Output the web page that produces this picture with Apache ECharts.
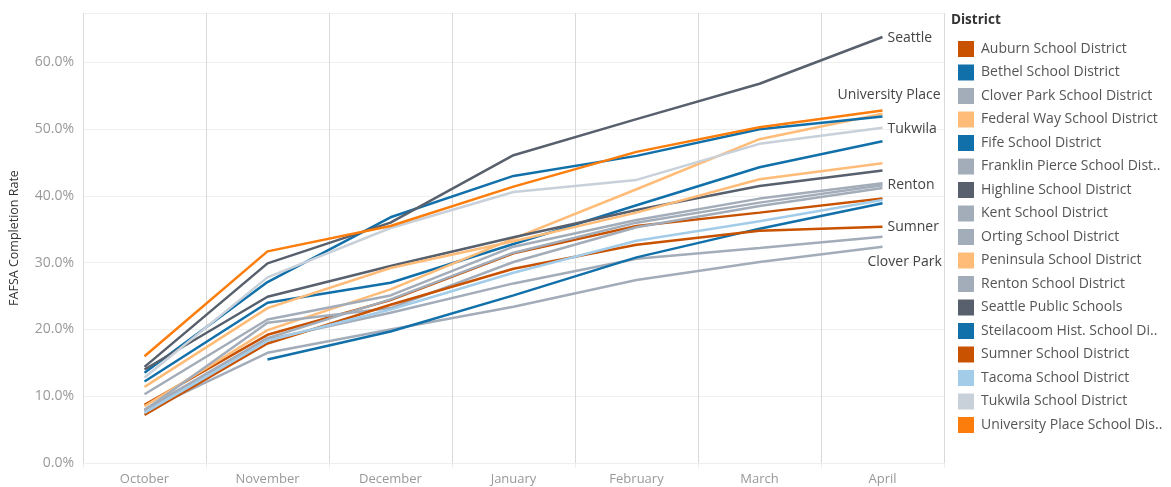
<!DOCTYPE html>
<html>
<head>
<meta charset="utf-8">
<script src="https://cdn.jsdelivr.net/npm/echarts@6/dist/echarts.min.js"></script>
<style>
  html, body { margin: 0; padding: 0; background: #fff; }
  #chart { width: 1171px; height: 487px; }
</style>
</head>
<body>
<div id="chart"></div>
<script>
// months on the x axis
const months = ['October', 'November', 'December', 'January', 'February', 'March', 'April']

// completion rate (%) per district
const auburn = [8.7, 19.2, 24.4, 31.4, 35.5, 37.5, 39.6]
const bethel = [12.2, 24.0, 27.0, 32.8, 38.6, 44.3, 48.2]
const cloverPark = [7.7, 16.5, 20.0, 23.4, 27.4, 30.1, 32.4]
const federalWay = [8.5, 19.9, 26.0, 33.6, 41.0, 48.5, 52.3]
const fife = [13.5, 27.1, 36.8, 43.0, 46.0, 50.0, 51.9]
const franklinPierce = [7.9, 18.5, 22.5, 26.9, 30.6, 32.2, 33.9]
const highline = [14.0, 24.9, 29.5, 33.8, 37.9, 41.5, 43.8]
const kent = [10.3, 21.5, 25.1, 32.4, 36.4, 39.6, 41.9]
const orting = [7.9, 21.0, 23.2, 30.1, 35.3, 38.5, 41.2]
const peninsula = [11.4, 23.2, 29.2, 33.2, 37.5, 42.5, 44.9]
const renton = [8.0, 18.7, 24.5, 31.5, 36.0, 39.0, 41.6]
const seattle = [14.4, 29.9, 36.0, 46.1, 51.5, 56.8, 63.8]
const steilacoom = [null, 15.5, 19.7, 25.1, 30.8, 35.1, 38.9]
const sumner = [7.2, 17.9, 23.7, 29.1, 32.7, 34.8, 35.4]
const tacoma = [7.5, 18.3, 23.0, 28.5, 33.3, 36.2, 39.4]
const tukwila = [12.8, 27.8, 35.2, 40.6, 42.4, 47.8, 50.2]
const universityPlace = [16.0, 31.7, 35.5, 41.4, 46.6, 50.3, 52.8]

const yTicks = [0, 10, 20, 30, 40, 50, 60]

const districts = [
    {name: 'Auburn School District', data: auburn, color: '#c85200'},
    {name: 'Bethel School District', data: bethel, color: '#1170aa'},
    {name: 'Clover Park School District', data: cloverPark, color: '#a3acb9', label: 'Clover Park', offset: [-23, 15]},
    {name: 'Federal Way School District', data: federalWay, color: '#ffbc79'},
    {name: 'Fife School District', data: fife, color: '#1170aa'},
    {name: 'Franklin Pierce School District', data: franklinPierce, color: '#a3acb9'},
    {name: 'Highline School District', data: highline, color: '#57606c'},
    {name: 'Kent School District', data: kent, color: '#a3acb9'},
    {name: 'Orting School District', data: orting, color: '#a3acb9'},
    {name: 'Peninsula School District', data: peninsula, color: '#ffbc79'},
    {name: 'Renton School District', data: renton, color: '#a3acb9', label: 'Renton', offset: [-3, 0]},
    {name: 'Seattle Public Schools', data: seattle, color: '#57606c', label: 'Seattle', offset: [-3, 1]},
    {name: 'Steilacoom Hist. School District', data: steilacoom, color: '#1170aa'},
    {name: 'Sumner School District', data: sumner, color: '#c85200', label: 'Sumner', offset: [-3, 0]},
    {name: 'Tacoma School District', data: tacoma, color: '#a3cce9'},
    {name: 'Tukwila School District', data: tukwila, color: '#c8d0d9', label: 'Tukwila', offset: [-3, 1]},
    {name: 'University Place School District', data: universityPlace, color: '#fc7d0b', label: 'University Place', offset: [-53, -15]},
]

const font = '"Open Sans", sans-serif'

let series = districts.map((d) => {
    return {
        name: d.name,
        type: 'line',
        data: d.data,
        symbol: 'none',
        connectNulls: false,
        lineStyle: {width: 2.5, color: d.color},
        itemStyle: {color: d.color},
        emphasis: {disabled: true},
        endLabel: {
            show: !!d.label,
            formatter: d.label || '',
            color: '#444',
            fontSize: 14,
            fontFamily: font,
            offset: d.offset || [0, 0],
        },
    }
})

let option = {
    animation: false,
    color: districts.map((d) => d.color),
    title: {
        text: 'District',
        left: 946,
        top: 8,
        textStyle: {fontSize: 13.5, fontWeight: 'bold', color: '#333', fontFamily: font},
    },
    legend: {
        orient: 'vertical',
        left: 958,
        top: 41,
        padding: 0,
        itemWidth: 16,
        itemHeight: 16,
        itemGap: 7.5,
        icon: 'rect',
        data: districts.map((d) => d.name),
        textStyle: {
            fontSize: 14,
            color: '#555',
            fontFamily: font,
            width: 184,
            overflow: 'truncate',
            ellipsis: '..',
            padding: [0, 0, 0, 2],
        },
        selectedMode: false,
    },
    grid: {left: 83, right: 227, top: 13, bottom: 24},
    xAxis: {
        type: 'category',
        data: months,
        boundaryGap: true,
        axisLine: {show: true, lineStyle: {color: '#eeeeee'}},
        axisTick: {show: true, length: 5, lineStyle: {color: '#eeeeee'}},
        axisLabel: {color: '#999', fontSize: 13, fontFamily: font, margin: 10},
        splitLine: {show: true, lineStyle: {color: '#d9d9d9', width: 1}},
    },
    yAxis: {
        type: 'value',
        min: 0,
        max: 67.4,
        interval: 10,
        name: 'FAFSA Completion Rate',
        nameLocation: 'middle',
        nameGap: 62,
        nameTextStyle: {color: '#333', fontSize: 12.5, fontFamily: font},
        axisLine: {show: false},
        axisTick: {show: false},
        axisLabel: {
            color: '#999',
            fontSize: 14,
            fontFamily: font,
            margin: 9,
            showMaxLabel: false,
            formatter: (v) => yTicks.indexOf(v) >= 0 ? v.toFixed(1) + '%' : '',
        },
        splitLine: {show: true, lineStyle: {color: '#f0f0f0', width: 1}},
    },
    series: series,
}

let myChart = echarts.init(document.getElementById('chart'))
myChart.setOption(option)
</script>
</body>
</html>
